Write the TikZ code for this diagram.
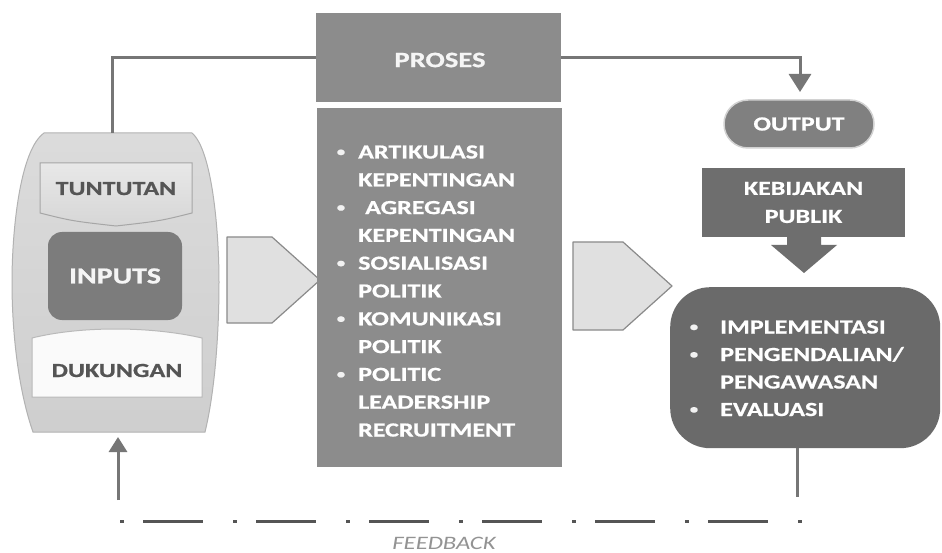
\documentclass[tikz,border=0pt]{standalone}
\usepackage{fontspec}
\newfontfamily\cb{Carlito}[FakeStretch=1.3,FakeBold=0.8]
\newfontfamily\ci{Carlito}[FakeStretch=1.3]
\usetikzlibrary{arrows.meta,calc}
\definecolor{linegray}{HTML}{767676}
\definecolor{procgray}{HTML}{8C8C8C}
\definecolor{inpgray}{HTML}{7C7C7C}
\definecolor{outgray}{HTML}{808080}
\definecolor{kebgray}{HTML}{6E6E6E}
\definecolor{resgray}{HTML}{6A6A6A}
\definecolor{darktxt}{HTML}{555555}
\definecolor{pentfill}{HTML}{E0E0E0}
\definecolor{pentline}{HTML}{8A8A8A}
\begin{document}
\begin{tikzpicture}[x=1pt,y=-1pt,
  font=\cb\bfseries\fontsize{20}{28}\selectfont,
  conn/.style={draw=linegray, line width=3pt},
  boxnode/.style={inner sep=0pt, anchor=north west},
  wtxt/.style={text=white, inner sep=0pt, anchor=base west},
  wbul/.style={text=white!90!gray, inner sep=0pt, anchor=base, font=\cb\bfseries\fontsize{13}{28}\selectfont},
  pent/.style={fill=pentfill, draw=pentline, line width=1.2pt, line join=round}]
\useasboundingbox (0,0) rectangle (942,553);
\fill[white] (0,0) rectangle (942,553);

% ---- input container ----
\path[draw=gray!60, line width=1pt, top color=gray!28, middle color=gray!8, bottom color=gray!38]
  (44,133) -- (192,133) .. controls (212,150) and (219,230) .. (219,282)
  .. controls (219,340) and (214,395) .. (205,432) -- (33,432)
  .. controls (20,395) and (12,340) .. (12,282)
  .. controls (12,230) and (20,150) .. (44,133) -- cycle;
\coordinate (conttop) at (112,133);
\coordinate (contbot) at (118,437);

% TUNTUTAN
\path[draw=gray!70, line width=1pt, top color=gray!18, bottom color=gray!32]
  (40,163) -- (192,163) -- (192,213) .. controls (160,221) .. (116,226)
  .. controls (72,221) .. (40,213) -- cycle;
\node[text=darktxt, inner sep=0pt, anchor=base] (tuntutan) at (116,195) {TUNTUTAN};

% INPUTS
\node[fill=inpgray, rounded corners=14pt, minimum width=134pt, minimum height=88pt,
      inner sep=0pt, text=white!92!gray, font=\cb\bfseries\fontsize{23}{28}\selectfont] (inputs) at (115,276) {INPUTS};

% DUKUNGAN
\path[fill=gray!4, draw=gray!55, line width=1pt]
  (32,338) .. controls (80,326) and (150,326) .. (202,338) -- (202,397) -- (32,397) -- cycle;
\node[text=darktxt, inner sep=0pt, anchor=base] (dukungan) at (117,377) {DUKUNGAN};

% ---- hollow arrows ----
\path[pent] (227,237) -- (272,237) -- (320,280) -- (272,323) -- (227,323) -- cycle;
\path[pent] (573,242) -- (623,242) -- (672,286) -- (623,330) -- (573,330) -- cycle;

% ---- process ----
\node[boxnode, fill=procgray, minimum width=245pt, minimum height=89pt] (proses) at (316,13) {};
\node[text=white!92!gray, inner sep=0pt, font=\cb\bfseries\fontsize{22}{28}\selectfont] (prosestxt) at (440,60) {PROSES};
\node[boxnode, fill=procgray, minimum width=245pt, minimum height=359pt] (big) at (317,108) {};

\node[wbul] (b1) at (341,156) {•};
\node[wtxt] (t1) at (358,158.5) {ARTIKULASI};
\node[wtxt] (t2) at (358,186.3) {KEPENTINGAN};
\node[wbul] (b3) at (341,211.6) {•};
\node[wtxt] (t3) at (365,214.1) {AGREGASI};
\node[wtxt] (t4) at (358,241.9) {KEPENTINGAN};
\node[wbul] (b5) at (341,267.2) {•};
\node[wtxt] (t5) at (358,269.7) {SOSIALISASI};
\node[wtxt] (t6) at (358,297.5) {POLITIK};
\node[wbul] (b7) at (341,322.8) {•};
\node[wtxt] (t7) at (358,325.3) {KOMUNIKASI};
\node[wtxt] (t8) at (358,353.1) {POLITIK};
\node[wbul] (b9) at (341,378.4) {•};
\node[wtxt] (t9) at (358,380.9) {POLITIC};
\node[wtxt] (t10) at (358,408.7) {LEADERSHIP};
\node[wtxt] (t11) at (358,436.5) {RECRUITMENT};

% ---- output side ----
\node[fill=outgray, draw=gray!35, line width=1.5pt, rounded corners=24pt,
      minimum width=150pt, minimum height=48pt, inner sep=0pt, text=white] (output) at (799,124) {OUTPUT};
\coordinate (outtip) at (800,92);

\node[fill=kebgray, minimum width=203pt, minimum height=69pt, inner sep=0pt,
      align=center, text=white] (keb) at (803.5,202.5) {KEBIJAKAN\\PUBLIK};
\fill[kebgray] (787,236) -- (821,236) -- (821,245) -- (837,245) -- (804,273)
  -- (771,245) -- (787,245) -- cycle;

\node[boxnode, fill=resgray, rounded corners=40pt, minimum width=270pt, minimum height=161pt] (res) at (670,287) {};
\node[wbul] (r1b) at (694,331) {•};
\node[wtxt] (r1) at (720,333.5) {IMPLEMENTASI};
\node[wbul] (r2b) at (694,358.5) {•};
\node[wtxt] (r2) at (720,361) {PENGENDALIAN/};
\node[wtxt] (r3) at (720,388.5) {PENGAWASAN};
\node[wbul] (r4b) at (694,413.5) {•};
\node[wtxt] (r4) at (720,416) {EVALUASI};

% ---- connectors ----
\draw[conn] (conttop) |- (proses.west);
\draw[conn, -{Triangle[width=22pt,length=18pt]}] (proses.east) -| (outtip);

\coordinate (fbL) at (118,500);
\coordinate (fbR) at (797,497);
\draw[conn, -{Triangle[width=18pt,length=15pt]}] (fbL) -- (contbot);
\draw[conn] (fbR |- res.south) -- (fbR);
\coordinate (dashL) at (120,521);
\coordinate (dashR) at (802,521);
\draw[draw=darktxt, line width=3pt, dash pattern=on 4pt off 19pt on 60pt off 30pt] (dashL) -- (dashR);

\node[font=\ci\itshape\fontsize{19}{24}\selectfont, text=gray!85, inner sep=0pt, anchor=base] (fb) at (444,549) {FEEDBACK};
\end{tikzpicture}
\end{document}
